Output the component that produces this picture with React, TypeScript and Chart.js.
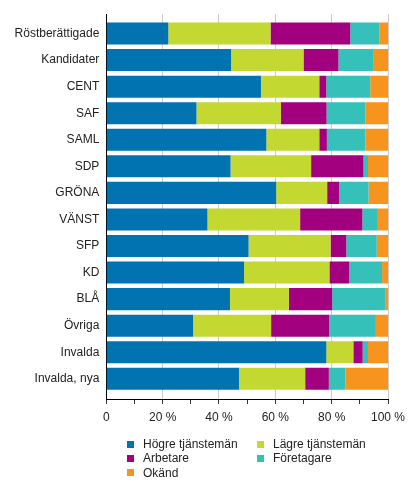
import React, { useEffect, useRef } from "react";
import { Chart, registerables } from "chart.js";

Chart.register(...registerables);

const categories = [
  "Röstberättigade", "Kandidater", "CENT", "SAF", "SAML", "SDP", "GRÖNA",
  "VÄNST", "SFP", "KD", "BLÅ", "Övriga", "Invalda", "Invalda, nya",
];
const hogre = [22.0, 44.3, 54.9, 32.0, 56.8, 44.1, 60.3, 35.9, 50.5, 48.9, 43.9, 30.8, 78.1, 47.1];
const lagre = [36.3, 25.7, 20.7, 30.0, 18.8, 28.6, 18.1, 32.9, 29.1, 30.3, 20.9, 27.7, 9.6, 23.5];
const arbetare = [28.3, 12.4, 2.5, 16.2, 2.7, 18.6, 4.2, 22.1, 5.6, 7.0, 15.4, 20.6, 3.3, 8.4];
const foretagare = [10.4, 12.3, 15.6, 13.8, 13.7, 1.6, 10.5, 5.5, 10.8, 11.7, 18.8, 16.6, 1.9, 5.9];
const okand = [3.0, 5.3, 6.3, 8.0, 8.0, 7.1, 6.9, 3.6, 4.0, 2.1, 1.0, 4.3, 7.1, 15.1];

const seriesNames = ["Högre tjänstemän", "Lägre tjänstemän", "Arbetare", "Företagare", "Okänd"];
const seriesColors = ["#0073B0", "#C3D831", "#A3007F", "#35C0B9", "#F7941D"];
const seriesData = [hogre, lagre, arbetare, foretagare, okand];

const FONT = "'Liberation Sans', Arial, sans-serif";

export default function App() {
  const ref = useRef<HTMLCanvasElement | null>(null);

  useEffect(() => {
    if (!ref.current) return;
    const chart = new Chart(ref.current, {
      type: "bar",
      data: {
        datasets: seriesNames.map((name, s) => ({
          label: name,
          data: seriesData[s].map((v, i) => ({ x: v, y: i })),
          backgroundColor: seriesColors[s],
          borderWidth: 0,
          barPercentage: 0.83,
          categoryPercentage: 1.0,
        })),
      },
      options: {
        indexAxis: "y",
        animation: false,
        responsive: false,
        layout: { padding: { left: 10, top: 11, right: 28, bottom: 62 } },
        plugins: {
          legend: { display: false },
          tooltip: { enabled: false },
        },
        scales: {
          x: {
            type: "linear",
            stacked: true,
            min: 0,
            max: 100,
            ticks: {
              stepSize: 10,
              autoSkip: false,
              maxRotation: 0,
              color: "#222",
              padding: 6,
              font: { family: FONT, size: 12 },
              callback: (v: any) => (v === 0 ? "0" : v % 20 === 0 ? v + " %" : ""),
            },
            grid: {
              color: (ctx: any) =>
                ctx.tick && ctx.tick.value % 20 === 0 && ctx.tick.value !== 0 ? "#CCCCCC" : "rgba(0,0,0,0)",
              tickColor: "#333",
              tickLength: 5,
              lineWidth: 1,
            },
            border: { display: true, color: "#000", width: 1 },
            afterFit: (scale: any) => {
              scale.height = 30;
            },
          },
          y: {
            type: "linear",
            stacked: true,
            reverse: true,
            offset: false,
            min: -0.728,
            max: 13.76,
            afterBuildTicks: (scale: any) => {
              scale.ticks = categories.map((_, i) => ({ value: i }));
            },
            ticks: {
              autoSkip: false,
              color: "#222",
              padding: 7,
              font: { family: FONT, size: 12 },
              callback: (v: any) => categories[v] ?? "",
            },
            grid: { display: false, drawTicks: false, tickLength: 0, offset: false },
            border: { display: true, color: "#000", width: 1 },
            afterFit: (scale: any) => {
              scale.width = 96.3;
            },
          },
        },
      },
    } as any);
    return () => chart.destroy();
  }, []);

  const legendPos = [
    { left: 127, top: 437 },
    { left: 257, top: 437 },
    { left: 127, top: 451.3 },
    { left: 257, top: 451.3 },
    { left: 127, top: 465.6 },
  ];

  return (
    <div style={{ position: "fixed", left: 0, top: 0, width: 416, height: 491, background: "#fff" }}>
      <canvas ref={ref} width={416} height={491} style={{ display: "block" }} />
      {seriesNames.map((name, i) => (
        <div
          key={name}
          style={{
            position: "absolute",
            left: legendPos[i].left,
            top: legendPos[i].top,
            height: 14,
            display: "flex",
            alignItems: "center",
            fontFamily: FONT,
            fontSize: 12,
            lineHeight: "14px",
            color: "#222",
            whiteSpace: "nowrap",
          }}
        >
          <span
            style={{
              display: "inline-block",
              width: 7,
              height: 7,
              background: seriesColors[i],
              marginRight: 9,
            }}
          />
          <span>{name}</span>
        </div>
      ))}
    </div>
  );
}
